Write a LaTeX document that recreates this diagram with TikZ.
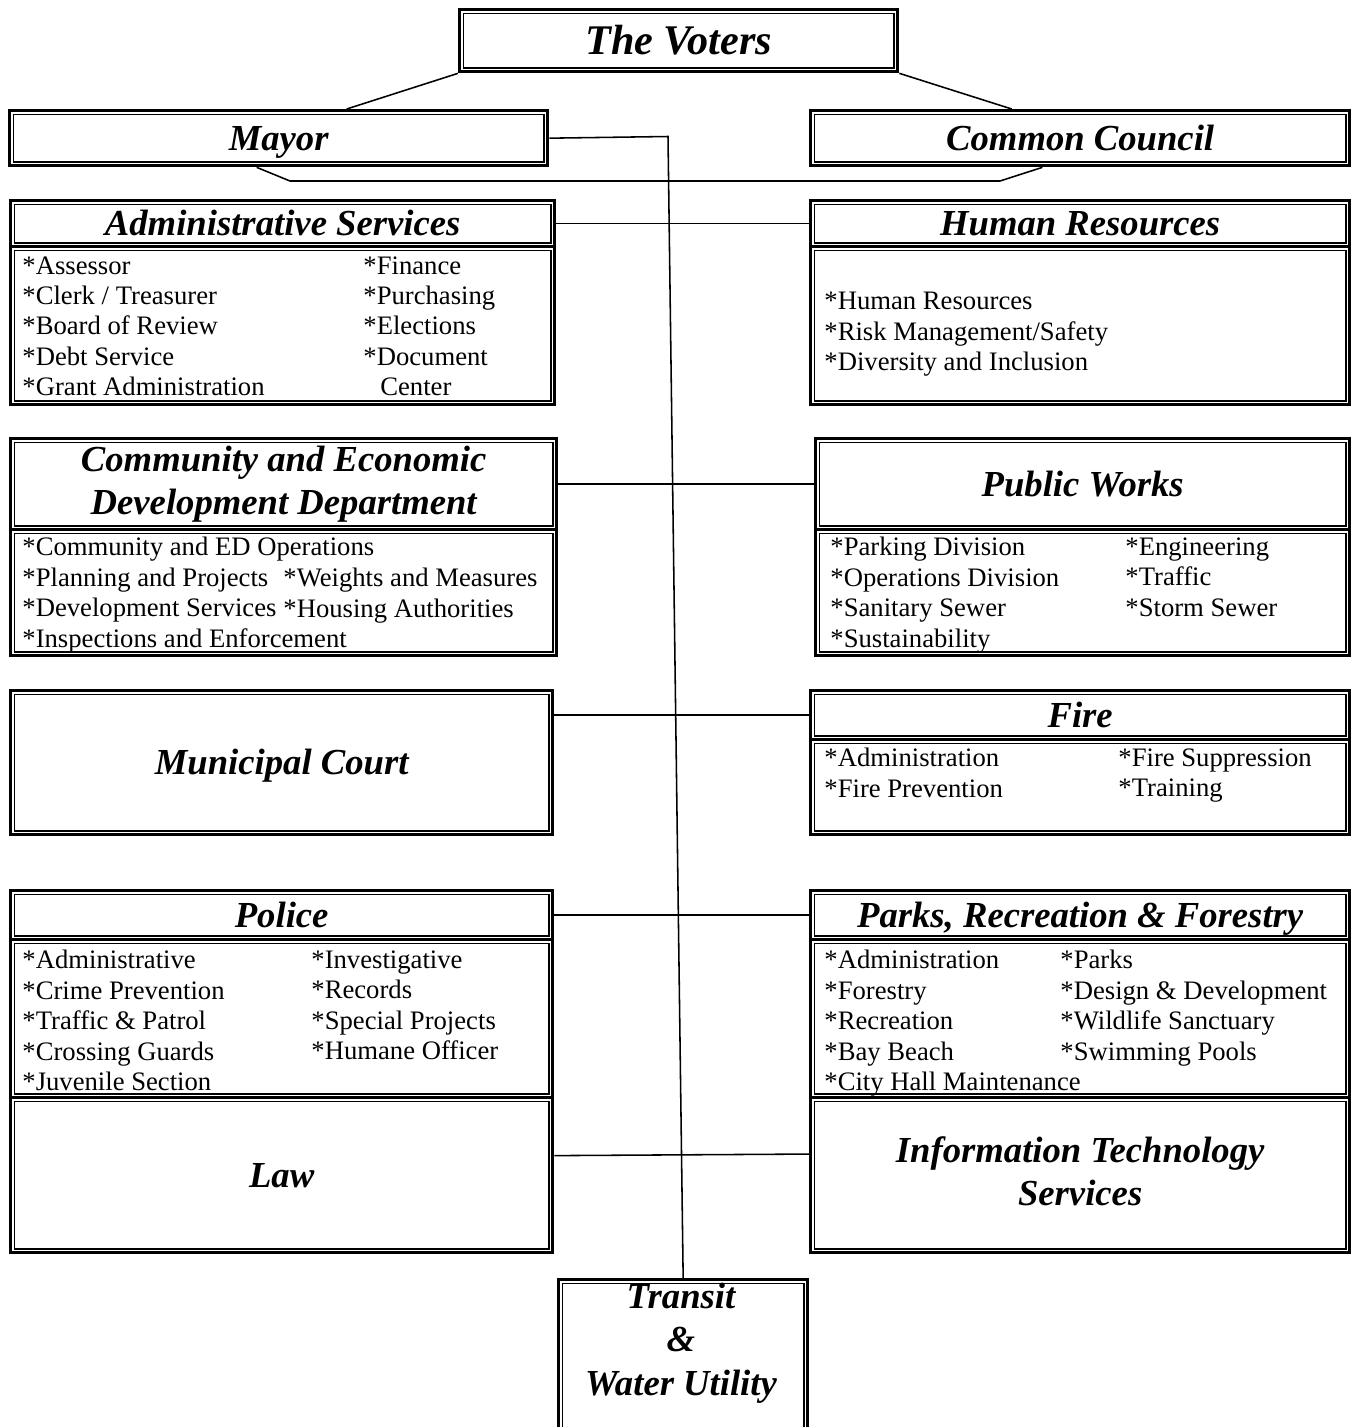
\documentclass[tikz,border=0pt]{standalone}
\usepackage{fontspec}
\setmainfont{Liberation Serif}
\tikzset{
  dbox/.style={draw, line width=1.5pt, anchor=north west, inner sep=0pt,
    append after command={\pgfextra{\draw[line width=0.5pt]
      ([shift={(2.4pt,-2.4pt)}]\tikzlastnode.north west) rectangle
      ([shift={(-2.4pt,2.4pt)}]\tikzlastnode.south east);}}},
  wh/.style 2 args={minimum width=#1*0.45pt, minimum height=#2*0.45pt},
  ttl/.style={font=\bfseries\itshape\fontsize{16.5}{19.5}\selectfont, align=center,
    execute at begin node={\rule{0pt}{0.88em}}, execute at end node=\vphantom{y}},
  items/.style={anchor=north west, inner sep=0pt, align=left,
    font=\fontsize{12}{13.7}\selectfont},
  link/.style={line width=0.7pt}
}
\begin{document}
\begin{tikzpicture}[x=0.45pt,y=-0.45pt]
\useasboundingbox (0,0) rectangle (1351,1427);

% top of the chart
\node[dbox, wh={438}{62}, ttl, font=\bfseries\itshape\fontsize{19}{22}\selectfont] (voters) at (458,8) {The Voters};
\node[dbox, wh={538}{55}, ttl] (mayor) at (8,109) {Mayor};
\node[dbox, wh={539}{55}, ttl] (council) at (809,109) {Common Council};

% left column
\node[dbox, wh={544}{46}, ttl] (adminhead) at (9,199) {Administrative Services};
\node[dbox, wh={544}{158}] (adminbody) at (9,245) {};
\node[items] (adminleft) at (22,256) {*Assessor\\*Clerk / Treasurer\\*Board of Review\\*Debt Service\\*Grant Administration};
\node[items] (adminright) at (363,256) {*Finance\\*Purchasing\\*Elections\\*Document\\\hspace{7.6pt}Center};

\node[dbox, wh={546}{91}, ttl] (cedhead) at (9,437) {Community and Economic\\Development Department};
\node[dbox, wh={546}{126}] (cedbody) at (9,528) {};
\node[items] (cedleft) at (22,537) {*Community and ED Operations\\*Planning and Projects\\*Development Services\\*Inspections and Enforcement};
\node[items] (cedright) at (283,568) {*Weights and Measures\\*Housing Authorities};

\node[dbox, wh={542}{144}, ttl] (court) at (9,689) {Municipal Court};

\node[dbox, wh={542}{49}, ttl] (policehead) at (9,889) {Police};
\node[dbox, wh={542}{158}] (policebody) at (9,938) {};
\node[items] (policeleft) at (22,950) {*Administrative\\*Crime Prevention\\*Traffic \& Patrol\\*Crossing Guards\\*Juvenile Section};
\node[items] (policeright) at (311,950) {*Investigative\\*Records\\*Special Projects\\*Humane Officer};
\node[dbox, wh={542}{155}, ttl] (law) at (9,1096) {Law};

% right column
\node[dbox, wh={539}{46}, ttl] (hrhead) at (809,199) {Human Resources};
\node[dbox, wh={539}{158}] (hrbody) at (809,245) {};
\node[items] (hrlist) at (824,292) {*Human Resources\\*Risk Management/Safety\\*Diversity and Inclusion};

\node[dbox, wh={534}{91}, ttl] (pwhead) at (814,437) {Public Works};
\node[dbox, wh={534}{126}] (pwbody) at (814,528) {};
\node[items] (pwleft) at (830,537) {*Parking Division\\*Operations Division\\*Sanitary Sewer\\*Sustainability};
\node[items] (pwright) at (1125,537) {*Engineering\\*Traffic\\*Storm Sewer};

\node[dbox, wh={539}{49}, ttl] (firehead) at (809,689) {Fire};
\node[dbox, wh={539}{95}] (firebody) at (809,738) {};
\node[items] (fireleft) at (824,748) {*Administration\\*Fire Prevention};
\node[items] (fireright) at (1118,748) {*Fire Suppression\\*Training};

\node[dbox, wh={539}{49}, ttl] (parkshead) at (809,889) {Parks, Recreation \& Forestry};
\node[dbox, wh={539}{158}] (parksbody) at (809,938) {};
\node[items] (parksleft) at (824,950) {*Administration\\*Forestry\\*Recreation\\*Bay Beach\\*City Hall Maintenance};
\node[items] (parksright) at (1060,950) {*Parks\\*Design \& Development\\*Wildlife Sanctuary\\*Swimming Pools};
\node[dbox, wh={539}{155}, ttl] (it) at (809,1096) {Information Technology\\Services};

% bottom
\node[dbox, wh={249}{175}] (transit) at (557,1278) {};
\node[ttl, font=\bfseries\itshape\fontsize{16.5}{19.5}\selectfont] (transittext) at (681,1343) {Transit\\\&\\Water Utility};

% connectors
\draw[link] (voters.south west) -- ([xshift=30.6pt]mayor.north);
\draw[link] (voters.south east) -- ([xshift=-30.8pt]council.north);
\coordinate (ml) at (290,181);
\coordinate (mr) at (1000,181);
\draw[link] ([xshift=-9.9pt]mayor.south) -- (ml) -- (mr) -- ([xshift=-17pt]council.south);
\coordinate (mt) at (668,136.5);
\draw[link] (mayor.east) -- (mt) -- (transit.north);
\draw[link] (adminhead.east) -- (hrhead.west);
\draw[link] (cedhead.east) -- (pwhead.west);
\draw[link] (court.east |- firehead.west) -- (firehead.west);
\draw[link] (policehead.east) -- (parkshead.west);
\draw[link] ([yshift=8.8pt]law.east) -- ([yshift=9.5pt]it.west);
\end{tikzpicture}
\end{document}
